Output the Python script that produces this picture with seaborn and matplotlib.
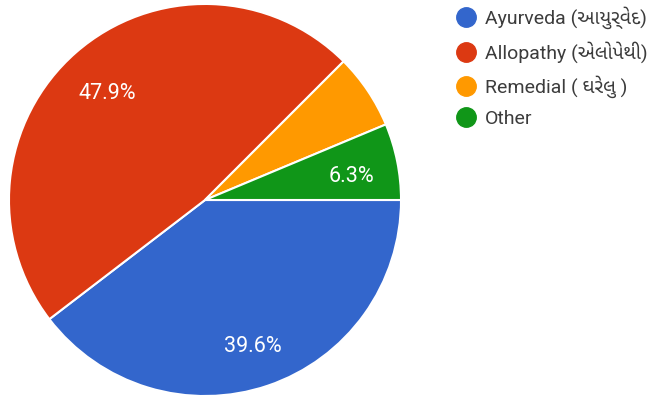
import matplotlib
matplotlib.use("Agg")
import matplotlib.pyplot as plt
from matplotlib.lines import Line2D
import seaborn as sns

labels = ["Ayurveda (આયુર્વેદ)", "Allopathy (એલોપેથી)", "Remedial ( ઘરેલુ )", "Other"]
values = [39.6, 47.9, 6.2, 6.3]
colors = ["#3366cc", "#dc3912", "#ff9900", "#109618"]

sns.set_style("white")
plt.rcParams['font.family'] = ['Roboto', 'Noto Sans Gujarati', 'Hind Vadodara', 'DejaVu Sans']

fig = plt.figure(figsize=(6.71, 4.01), dpi=100)
ax = fig.add_axes([(205 - 197) / 671, (201 - 197) / 401, 394 / 671, 394 / 401])

wedges, texts, autotexts = ax.pie(
    values, colors=colors, startangle=0, counterclock=False,
    autopct=lambda p: f"{p:.1f}%" if p > 6.25 else "",
    pctdistance=0.76, radius=1.0,
    wedgeprops=dict(edgecolor="white", linewidth=1.5),
    textprops=dict(color="white", fontsize=15.5))
# google charts sit the labels a touch lower
for t in autotexts:
    x, y = t.get_position()
    t.set_position((x, y - 0.028))
ax.set_xlim(-1.005, 1.005)
ax.set_ylim(-1.005, 1.005)
ax.set_aspect("equal")
ax.axis("off")

handles = [Line2D([0], [0], marker="o", color="none", markerfacecolor=c,
                  markeredgecolor=c, markersize=14) for c in colors]
fig.legend(handles, labels, loc="upper left", bbox_to_anchor=(436 / 671, 1.027),
           frameon=False, fontsize=14, labelspacing=0.62, handletextpad=0.3,
           handlelength=1.3, labelcolor="#3c3c3c")

fig.savefig("out.png", dpi=100)
